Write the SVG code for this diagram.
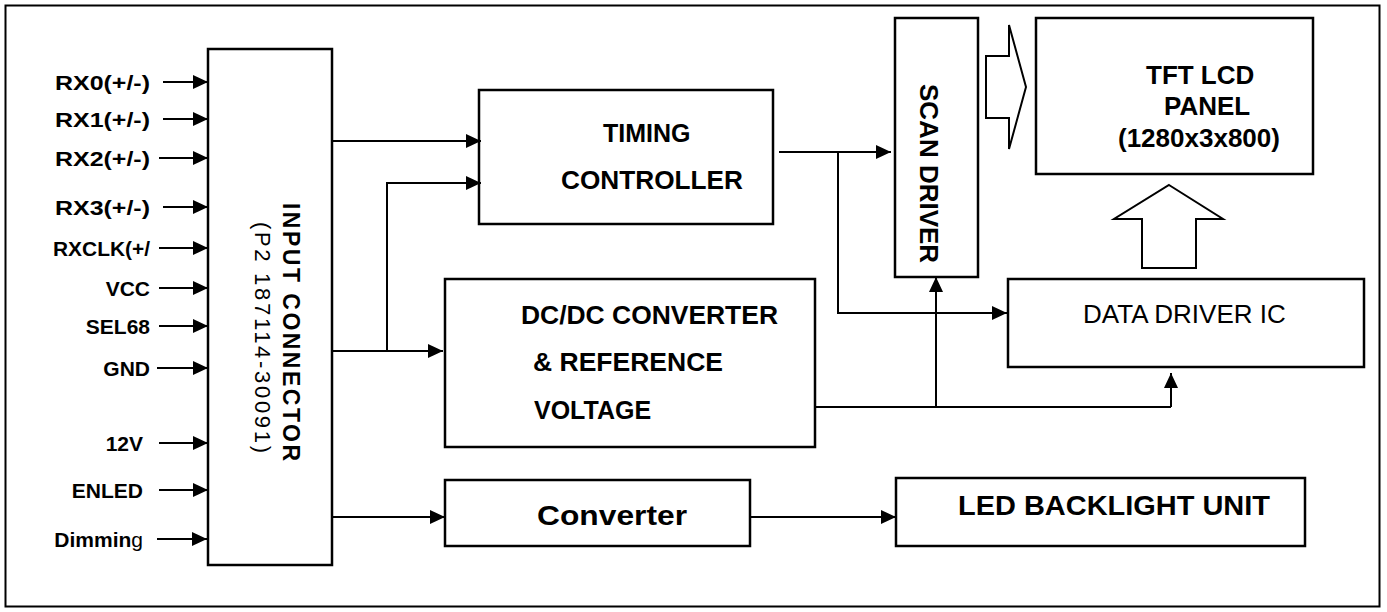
<svg xmlns="http://www.w3.org/2000/svg" width="1387" height="612" viewBox="0 0 1387 612">
<style>
.box{fill:#fff;stroke:#000;stroke-width:2.5}
.ln{fill:none;stroke:#000;stroke-width:2}
.hol{fill:#fff;stroke:#000;stroke-width:2}
.b{font-family:"Liberation Sans",Arial,sans-serif;font-weight:bold;fill:#000}
.r{font-family:"Liberation Sans",Arial,sans-serif;fill:#000}
.lab{font-size:21px;text-anchor:end}
.t{font-size:25px}
</style>
<defs>
<marker id="ah" viewBox="0 0 15 14" refX="15" refY="7" markerWidth="15" markerHeight="14" markerUnits="userSpaceOnUse" orient="auto">
<path d="M0,0 L15,7 L0,14 Z" fill="#000"/>
</marker>
</defs>
<rect x="5.5" y="5.5" width="1374" height="601" fill="#fff" stroke="#000" stroke-width="2"/>

<g id="input-labels">
<text class="b lab" x="150" y="90" textLength="95" lengthAdjust="spacingAndGlyphs">RX0(+/-)</text>
<text class="b lab" x="150" y="127" textLength="95" lengthAdjust="spacingAndGlyphs">RX1(+/-)</text>
<text class="b lab" x="150" y="166" textLength="95" lengthAdjust="spacingAndGlyphs">RX2(+/-)</text>
<text class="b lab" x="150" y="215" textLength="95" lengthAdjust="spacingAndGlyphs">RX3(+/-)</text>
<text class="b lab" x="150" y="256" textLength="97" lengthAdjust="spacingAndGlyphs">RXCLK(+/</text>
<text class="b lab" x="150" y="296">VCC</text>
<text class="b lab" x="150" y="334">SEL68</text>
<text class="b lab" x="150" y="376">GND</text>
<text class="b lab" x="143" y="451">12V</text>
<text class="b lab" x="143" y="498">ENLED</text>
<text class="b lab" x="143" y="547">Dimmin<tspan font-weight="normal">g</tspan></text>
</g>

<g id="input-connector">
<rect class="box" x="208" y="49" width="124" height="516"/>
<text class="b" font-size="23" transform="translate(283,203) rotate(90)" textLength="258" lengthAdjust="spacing">INPUT CONNECTOR</text>
<text class="r" font-size="22" transform="translate(255,222) rotate(90)" textLength="231" lengthAdjust="spacing">(P2 187114-30091)</text>
</g>

<g id="timing-controller">
<rect class="box" x="479" y="90" width="294" height="134"/>
<text class="b t" x="603" y="142">TIMING</text>
<text class="b t" x="561" y="189" textLength="182" lengthAdjust="spacingAndGlyphs">CONTROLLER</text>
</g>

<g id="dcdc">
<rect class="box" x="445" y="279" width="370" height="168"/>
<text class="b t" x="521" y="324" textLength="257" lengthAdjust="spacingAndGlyphs">DC/DC CONVERTER</text>
<text class="b t" x="533" y="371" textLength="190" lengthAdjust="spacingAndGlyphs">&amp; REFERENCE</text>
<text class="b t" x="534" y="419">VOLTAGE</text>
</g>

<g id="scan-driver">
<rect class="box" x="895" y="18" width="83" height="259"/>
<text class="b" font-size="26" transform="translate(920,84) rotate(90)">SCAN DRIVER</text>
</g>

<g id="tft-panel">
<rect class="box" x="1036" y="18" width="277" height="156"/>
<text class="b" font-size="26" x="1146" y="84">TFT LCD</text>
<text class="b" font-size="26" x="1164" y="115">PANEL</text>
<text class="b" font-size="26" x="1118" y="147">(1280x3x800)</text>
</g>

<g id="data-driver">
<rect class="box" x="1008" y="279" width="356" height="88"/>
<text class="r" font-size="26" x="1083" y="323">DATA DRIVER IC</text>
</g>

<g id="converter">
<rect class="box" x="445" y="480" width="305" height="66"/>
<text class="b" font-size="27" x="537" y="525" textLength="150" lengthAdjust="spacingAndGlyphs">Converter</text>
</g>

<g id="led-backlight">
<rect class="box" x="896" y="478" width="409" height="68"/>
<text class="b" font-size="27" x="958" y="515" textLength="312" lengthAdjust="spacingAndGlyphs">LED BACKLIGHT UNIT</text>
</g>

<g id="connectors">
<line class="ln" x1="163" y1="82" x2="208" y2="82" marker-end="url(#ah)"/>
<line class="ln" x1="163" y1="119" x2="208" y2="119" marker-end="url(#ah)"/>
<line class="ln" x1="159" y1="158" x2="208" y2="158" marker-end="url(#ah)"/>
<line class="ln" x1="163" y1="207" x2="208" y2="207" marker-end="url(#ah)"/>
<line class="ln" x1="159" y1="248" x2="208" y2="248" marker-end="url(#ah)"/>
<line class="ln" x1="159" y1="288" x2="208" y2="288" marker-end="url(#ah)"/>
<line class="ln" x1="159" y1="326" x2="208" y2="326" marker-end="url(#ah)"/>
<line class="ln" x1="157" y1="368" x2="208" y2="368" marker-end="url(#ah)"/>
<line class="ln" x1="159" y1="443" x2="208" y2="443" marker-end="url(#ah)"/>
<line class="ln" x1="159" y1="490" x2="208" y2="490" marker-end="url(#ah)"/>
<line class="ln" x1="157" y1="539" x2="207" y2="539" marker-end="url(#ah)"/>

<line class="ln" x1="332" y1="141" x2="481" y2="141" marker-end="url(#ah)"/>
<polyline class="ln" points="387,351 387,183 481,183" marker-end="url(#ah)"/>
<line class="ln" x1="332" y1="351" x2="443" y2="351" marker-end="url(#ah)"/>
<line class="ln" x1="779" y1="152" x2="891" y2="152" marker-end="url(#ah)"/>
<polyline class="ln" points="838,152 838,313 1007,313" marker-end="url(#ah)"/>
<line class="ln" x1="816" y1="407" x2="1171" y2="407"/>
<line class="ln" x1="936" y1="407" x2="936" y2="277" marker-end="url(#ah)"/>
<polyline class="ln" points="1171,407 1171,373" marker-end="url(#ah)"/>
<line class="ln" x1="332" y1="517" x2="445" y2="517" marker-end="url(#ah)"/>
<line class="ln" x1="750" y1="517" x2="896" y2="517" marker-end="url(#ah)"/>

<polygon class="hol" points="986,56 1009,56 1009,25 1026,87 1009,149 1009,118 986,118"/>
<polygon class="hol" points="1169,185 1223,219 1196,219 1196,268 1142,268 1142,219 1114,219"/>
</g>
</svg>
